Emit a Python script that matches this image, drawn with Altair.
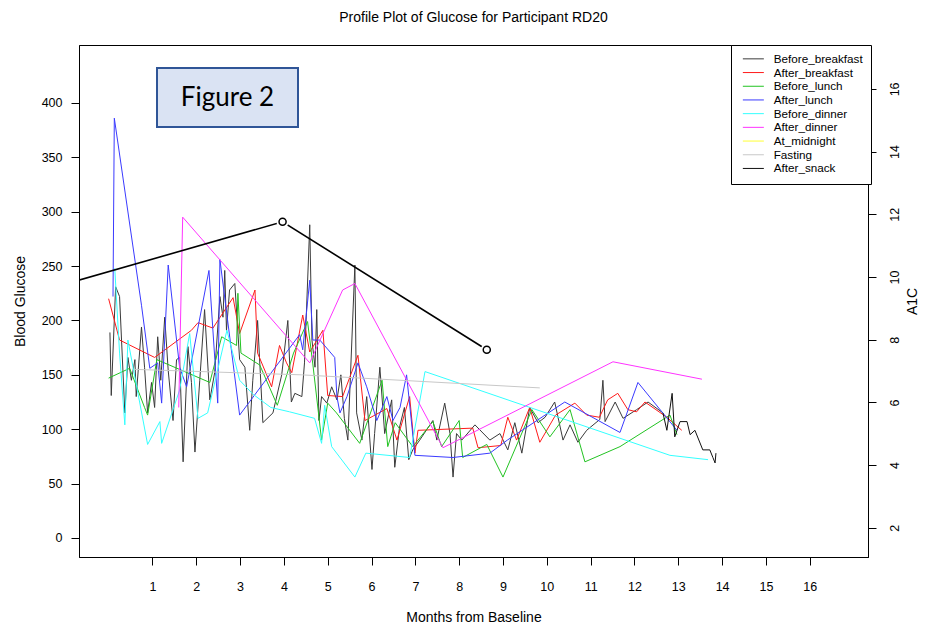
import altair as alt
import pandas as pd

SERIES = ["Before_breakfast", "After_breakfast", "Before_lunch", "After_lunch",
          "Before_dinner", "After_dinner", "At_midnight", "Fasting", "After_snack"]
COLORS = ["#3a3a3a", "#ff1a1a", "#22c322", "#3a3aff", "#33ffff", "#ff33ff",
          "#ffff33", "#c8c8c8", "#111111"]

bb_month = [0.03, 0.06, 0.16, 0.25, 0.37, 0.44, 0.52, 0.60, 0.63, 0.75, 0.82, 0.89, 0.98,
            1.05, 1.12, 1.19, 1.28, 1.36, 1.47, 1.55, 1.62, 1.70, 1.81, 1.89, 1.97, 2.08,
            2.19, 2.31, 2.42, 2.54, 2.61, 2.65, 2.69, 2.76, 2.88, 2.99, 3.11, 3.22, 3.29,
            3.40, 3.52, 3.75, 3.95, 4.09, 4.17, 4.25, 4.41, 4.47, 4.59, 4.64, 4.71, 4.75,
            4.80, 4.86, 4.98, 5.09, 5.21, 5.30, 5.38, 5.46, 5.62, 5.66, 5.78, 5.89, 6.01,
            6.07, 6.19, 6.30, 6.46, 6.53, 6.64, 6.75, 6.85, 6.94, 7.10, 7.40, 7.49, 7.67,
            7.79, 7.86, 7.94, 8.06, 8.36, 8.70, 8.93, 9.11, 9.27, 9.43, 9.61, 9.80, 9.96,
            10.18, 10.37, 10.53, 10.71, 10.91, 11.21, 11.28, 11.33, 11.56, 11.74, 12.05,
            12.31, 12.65]
bb_glu = [189, 131, 231, 222, 115, 166, 145, 164, 130, 194, 157, 115, 143,
          120, 185, 145, 203, 154, 108, 164, 166, 70, 176, 143, 79, 145,
          210, 127, 152, 222, 203, 246, 191, 228, 234, 164, 157, 99, 145,
          200, 106, 115, 150, 200, 125, 133, 130, 161, 288, 182, 157, 210,
          108, 130, 124, 139, 127, 150, 110, 90, 251, 115, 90, 130, 63,
          96, 157, 96, 127, 65, 102, 120, 72, 81, 90, 108, 90, 124,
          96, 56, 96, 90, 104, 90, 96, 81, 106, 78, 120, 106, 111,
          125, 90, 104, 88, 99, 109, 145, 107, 125, 110, 118,
          125, 115]

ab_month = [0.0, 0.25, 1.05, 1.89, 2.04, 2.38, 2.84, 2.99, 3.34, 3.40, 3.72, 3.90, 4.06,
            4.18, 4.43, 4.59, 4.89, 5.00, 5.34, 5.69, 5.85, 6.35, 6.58, 6.87, 6.99, 7.06,
            8.31, 8.43, 8.95, 9.11, 9.31, 9.61, 9.84, 10.20, 10.64, 10.91, 11.20, 11.39,
            11.62, 11.85, 12.05, 12.24, 12.74, 13.08]
ab_glu = [220, 182, 166, 191, 198, 193, 221, 188, 228, 170, 139, 177, 161,
          152, 205, 171, 191, 131, 130, 168, 108, 119, 90, 130, 78, 99,
          101, 83, 85, 111, 90, 120, 88, 113, 124, 113, 111, 127,
          133, 118, 116, 125, 111, 99]

bl_month = [0.0, 0.48, 0.82, 0.89, 1.10, 2.31, 2.58, 2.92, 2.95, 3.02, 3.45, 3.85, 4.22,
            4.54, 4.66, 4.86, 5.00, 5.20, 5.73, 6.24, 6.37, 6.54, 6.94, 7.40, 7.60, 8.00,
            8.08, 8.63, 9.00, 9.66, 10.07, 10.53, 10.87, 11.67, 12.81, 12.97]
bl_glu = [147, 156, 120, 113, 164, 143, 185, 177, 225, 170, 159, 122, 170,
          199, 160, 90, 124, 115, 87, 145, 84, 106, 84, 107, 84, 108,
          74, 86, 56, 118, 93, 118, 70, 84, 113, 95]

al_month = [0.10, 0.13, 0.75, 0.94, 1.12, 1.21, 1.36, 1.62, 1.78, 2.29, 2.49, 2.54, 2.99,
            4.36, 4.43, 4.59, 4.66, 4.82, 5.16, 5.21, 5.28, 5.44, 5.69, 5.89, 6.12, 6.35,
            6.49, 6.65, 6.80, 6.99, 7.86, 8.70, 9.10, 10.41, 11.67, 12.08, 12.97]
al_glu = [222, 386, 214, 156, 161, 124, 251, 157, 139, 246, 124, 256, 113,
          187, 173, 237, 182, 182, 166, 130, 115, 130, 161, 139, 108, 130,
          108, 120, 150, 76, 74, 78, 90, 125, 97, 143, 99]

bd_month = [0.14, 0.25, 0.37, 0.44, 0.89, 1.17, 1.21, 1.62, 1.85, 2.04, 2.26, 2.70, 2.99,
            3.30, 3.70, 4.13, 4.70, 4.86, 4.93, 5.09, 5.62, 5.87, 6.87, 7.22, 12.81, 13.68]
bd_glu = [248, 170, 104, 182, 86, 107, 87, 136, 188, 110, 115, 191, 145,
          132, 120, 116, 110, 87, 122, 84, 56, 78, 74, 153, 76, 72]

ad_month = [1.60, 1.69, 4.59, 5.34, 5.62, 7.63, 11.51, 13.54]
ad_glu = [120, 295, 161, 228, 234, 83, 162, 146]

mid_month = []
mid_glu = []

fa_month = [0.60, 4.40, 9.84]
fa_glu = [155, 150, 138]

as_month = [12.65, 12.74, 12.86, 12.92, 13.04, 13.20, 13.27, 13.38, 13.56, 13.72, 13.79,
            13.84, 13.86]
as_glu = [115, 99, 133, 93, 107, 107, 95, 99, 81, 81, 74, 69, 78]

a1c_month = [-1.5, 3.97, 8.63]
a1c_value = [9.57, 11.76, 7.68]

MONTH_TICKS = list(range(1, 17))
GLU_TICKS = list(range(0, 401, 50))
A1C_TICKS = list(range(2, 17, 2))

series_data = [
    ("Before_breakfast", bb_month, bb_glu),
    ("After_breakfast", ab_month, ab_glu),
    ("Before_lunch", bl_month, bl_glu),
    ("After_lunch", al_month, al_glu),
    ("Before_dinner", bd_month, bd_glu),
    ("After_dinner", ad_month, ad_glu),
    ("At_midnight", mid_month, mid_glu),
    ("Fasting", fa_month, fa_glu),
    ("After_snack", as_month, as_glu),
]
rows = []
for name, ms, gs in series_data:
    for m, g in zip(ms, gs):
        rows.append({"series": name, "month": m, "glucose": g})
glu = pd.DataFrame(rows)
a1c = pd.DataFrame({"month": a1c_month, "a1c": a1c_value})

FONT = "Liberation Sans"

x_enc = alt.X("month:Q",
              scale=alt.Scale(domain=[-0.676, 17.33], nice=False, zero=False),
              axis=alt.Axis(values=MONTH_TICKS, title="Months from Baseline",
                            labelPadding=15, titlePadding=18, format="d"))

lines = alt.Chart(glu).mark_line(strokeWidth=1, clip=True).encode(
    x=x_enc,
    y=alt.Y("glucose:Q",
            scale=alt.Scale(domain=[-17.5, 453.3], nice=False, zero=False),
            axis=alt.Axis(values=GLU_TICKS, title="Blood Glucose", orient="left",
                          labelPadding=9, titlePadding=14)),
    color=alt.Color("series:N",
                    scale=alt.Scale(domain=SERIES, range=COLORS),
                    legend=alt.Legend(title=None, orient="none", legendX=652, legendY=0,
                                      direction="vertical", symbolType="M-2.1,0H2.1",
                                      symbolSize=100, symbolStrokeWidth=1,
                                      labelFontSize=11.7, labelFont=FONT, labelColor="black",
                                      padding=8, symbolOffset=8.5, labelOffset=14.5,
                                      rowPadding=0.7, strokeColor="black",
                                      fillColor="white")),
)

note = pd.DataFrame({"label": ["Figure 2"]})
box = alt.Chart(note).mark_rect(fill="#dae3f3", stroke="#2f5597", strokeWidth=2).encode(
    x=alt.value(78), x2=alt.value(219), y=alt.value(23), y2=alt.value(82))
box_txt = alt.Chart(note).mark_text(font="Lato", fontSize=26, color="black").encode(
    x=alt.value(148.5), y=alt.value(53), text="label:N")

left = alt.layer(lines, box, box_txt)

a1c_y = alt.Y("a1c:Q",
              scale=alt.Scale(domain=[1.07, 17.4], nice=False, zero=False),
              axis=alt.Axis(values=A1C_TICKS, title="A1C", orient="right",
                            labelAngle=270, labelAlign="center", labelBaseline="top",
                            labelPadding=12, titleAngle=270, titleBaseline="top",
                            titlePadding=5))
a1c_line = alt.Chart(a1c).mark_line(color="black", strokeWidth=1.6, clip=True).encode(
    x="month:Q", y=a1c_y)
a1c_gap = alt.Chart(a1c).mark_point(filled=True, color="white", opacity=1, size=150,
                                    clip=True).encode(x="month:Q", y="a1c:Q")
a1c_pts = alt.Chart(a1c).mark_point(filled=False, color="black", size=50, strokeWidth=1.5,
                                    opacity=1, clip=True).encode(x="month:Q", y="a1c:Q")
right = alt.layer(a1c_line, a1c_gap, a1c_pts)

chart = alt.layer(left, right).resolve_scale(y="independent").properties(
    width=789, height=512,
    autosize=alt.AutoSizeParams(type="none"),
    padding={"left": 71, "top": 37, "right": 55, "bottom": 72},
    title=alt.TitleParams("Profile Plot of Glucose for Participant RD20", fontSize=14,
                          fontWeight="normal", font=FONT, anchor="middle", offset=20,
                          color="black"),
).configure_view(stroke="black", strokeWidth=1).configure_axis(
    grid=False, domainColor="black", tickColor="black", labelColor="black",
    titleColor="black", labelFont=FONT, titleFont=FONT, labelFontSize=12.5,
    titleFontSize=14, titleFontWeight="normal", tickSize=8, domainWidth=1,
    labelFlush=False, labelOverlap=False)

chart.save("out.html", embed_options={"renderer": "svg", "actions": False})
